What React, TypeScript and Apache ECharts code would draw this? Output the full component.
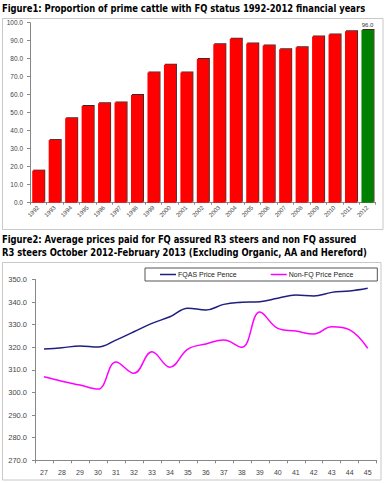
import React, { useEffect, useRef } from "react";
import * as echarts from "echarts";

const years = ["1992","1993","1994","1995","1996","1997","1998","1999","2000","2001","2002","2003","2004","2005","2006","2007","2008","2009","2010","2011","2012"];
const fqShare = [17.8, 34.8, 46.9, 53.7, 55.2, 55.6, 59.8, 72.4, 76.7, 72.4, 79.8, 88.0, 91.1, 88.5, 87.4, 85.2, 86.3, 92.4, 93.5, 95.2, 96.0];
const weeks = ["27","28","29","30","31","32","33","34","35","36","37","38","39","40","41","42","43","44","45"];
const fqasPrice = [319.2, 319.8, 320.6, 320.1, 323.2, 326.9, 330.6, 333.5, 337.3, 336.5, 339.0, 339.9, 340.2, 341.7, 343.1, 342.7, 344.3, 344.9, 346.1];
const nonFqPrice = [307.0, 305.0, 303.3, 301.5, 313.5, 308.5, 318.0, 311.2, 319.2, 321.5, 323.2, 320.0, 335.6, 328.4, 327.2, 325.9, 329.1, 327.7, 319.6];

const title1 = "Figure1: Proportion of prime cattle with FQ status 1992-2012 financial years";
const title2a = "Figure2: Average prices paid for FQ assured R3 steers and non FQ assured";
const title2b = "R3 steers October 2012-February 2013 (Excluding Organic, AA and Hereford)";

const TITLE_FONT = "'DejaVu Sans Condensed', 'DejaVu Sans', sans-serif";
const AX_FONT = "'Liberation Sans', Arial, sans-serif";

export default function App() {
  const ref = useRef<HTMLDivElement>(null);
  useEffect(() => {
    if (!ref.current) return;
    const chart = echarts.init(ref.current, undefined, { renderer: "svg" });
    const titleEl = (t: string, y: number, sx: number) => ({
      type: "text",
      x: 2,
      y,
      scaleX: sx,
      style: {
        text: t,
        fill: "#000",
        font: `bold 11px ${TITLE_FONT}`,
        verticalAlign: "middle",
        textVerticalAlign: "middle",
      },
    });
    chart.setOption({
      animation: false,
      backgroundColor: "#fff",
      graphic: [
        titleEl(title1, 8, 0.85),
        titleEl(title2a, 239.5, 0.85),
        titleEl(title2b, 252.5, 0.85),
        { type: "rect", shape: { x: 2.5, y: 18.5, width: 380.5, height: 211 }, style: { fill: "none", stroke: "#c8c8c8", lineWidth: 1 }, z: -1 },
        { type: "rect", shape: { x: 2.5, y: 262.5, width: 378.5, height: 217.5 }, style: { fill: "none", stroke: "#c8c8c8", lineWidth: 1 }, z: -1 },
      ],
      grid: [
        { left: 30, right: 11.3, top: 22.7, bottom: 483 - 202.7 },
        { left: 35, right: 10.3, top: 279.5, bottom: 483 - 460.3 },
      ],
      legend: {
        data: ["FQAS Price Pence", "Non-FQ Price Pence"],
        left: 145,
        top: 268,
        icon: "rect",
        itemWidth: 16,
        itemHeight: 1.5,
        itemGap: 34,
        padding: [3, 24, 3, 15],
        borderColor: "#555",
        borderWidth: 1,
        textStyle: { fontSize: 7, fontFamily: AX_FONT, color: "#222", padding: [0, 0, 0, -3] },
      },
      xAxis: [
        {
          gridIndex: 0,
          type: "category",
          data: years,
          axisLine: { lineStyle: { color: "#888", width: 1 } },
          axisTick: { show: true, length: 2, lineStyle: { color: "#888" } },
          axisLabel: { rotate: 45, fontSize: 6, fontFamily: AX_FONT, color: "#444", margin: 4 },
        },
        {
          gridIndex: 1,
          type: "category",
          data: weeks,
          axisLine: { lineStyle: { color: "#888", width: 1 } },
          axisTick: { show: true, length: 3, lineStyle: { color: "#888" } },
          axisLabel: { fontSize: 7, fontFamily: AX_FONT, color: "#444", margin: 9 },
        },
      ],
      yAxis: [
        {
          gridIndex: 0,
          type: "value",
          min: 0,
          max: 100,
          interval: 10,
          splitLine: { show: false },
          axisLine: { show: true, lineStyle: { color: "#888", width: 1 } },
          axisTick: { show: true, length: 3, lineStyle: { color: "#888" } },
          axisLabel: { fontSize: 6.5, fontFamily: AX_FONT, color: "#444", margin: 7, formatter: (v: number) => v.toFixed(1) },
        },
        {
          gridIndex: 1,
          type: "value",
          min: 270,
          max: 350,
          interval: 10,
          splitLine: { show: false },
          axisLine: { show: true, lineStyle: { color: "#888", width: 1 } },
          axisTick: { show: true, length: 3, lineStyle: { color: "#888" } },
          axisLabel: { fontSize: 7.5, fontFamily: AX_FONT, color: "#444", margin: 8, formatter: (v: number) => v.toFixed(1) },
        },
      ],
      series: [
        {
          type: "bar",
          xAxisIndex: 0,
          yAxisIndex: 0,
          barCategoryGap: "27%",
          data: fqShare.map((v, i) =>
            i === fqShare.length - 1
              ? {
                  value: v,
                  itemStyle: { color: "#008000" },
                  label: { show: true, position: "top", fontSize: 6, fontFamily: AX_FONT, color: "#333", distance: 2, formatter: (p: any) => Number(p.value).toFixed(1) },
                }
              : v
          ),
          itemStyle: {
            color: "#ff0000",
            shadowColor: "rgba(40,0,0,0.85)",
            shadowBlur: 0,
            shadowOffsetX: 1,
            shadowOffsetY: -1,
          },
        },
        {
          name: "FQAS Price Pence",
          type: "line",
          xAxisIndex: 1,
          yAxisIndex: 1,
          data: fqasPrice,
          smooth: 0.4,
          symbol: "none",
          lineStyle: { color: "#1f1f7f", width: 1.5 },
          itemStyle: { color: "#1f1f7f" },
        },
        {
          name: "Non-FQ Price Pence",
          type: "line",
          xAxisIndex: 1,
          yAxisIndex: 1,
          data: nonFqPrice,
          smooth: 0.4,
          symbol: "none",
          lineStyle: { color: "#ff00ff", width: 1.5 },
          itemStyle: { color: "#ff00ff" },
        },
      ],
    });
    return () => chart.dispose();
  }, []);
  return <div ref={ref} style={{ position: "absolute", left: 0, top: 0, width: 387, height: 483 }} />;
}
